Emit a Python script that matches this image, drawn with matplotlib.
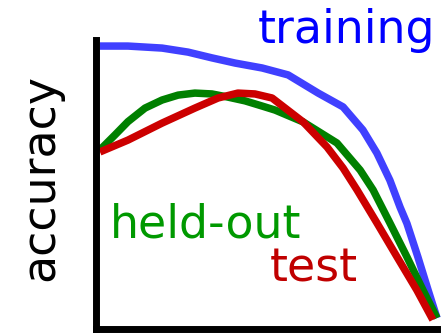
import matplotlib
matplotlib.use("Agg")
import matplotlib.pyplot as plt

# curves (x = training time 0-100, y = accuracy 0-100)
train_x = [1.3, 9.5, 19.5, 27.1, 34.1, 40.9, 48.8, 56.4, 65.2, 72.5, 78.3, 82.4, 86.2,
           89.2, 91.2, 94.4, 97.4, 100.0]
train_y = [97.9, 97.9, 97.2, 95.8, 93.8, 92.0, 90.3, 87.9, 81.6, 76.8, 68.8, 60.8, 51.4,
           42.0, 36.4, 24.8, 13.3, 3.6]

heldout_x = [1.3, 5.7, 9.5, 14.5, 19.5, 24.2, 29.1, 34.1, 38.8, 43.8, 48.8, 52.6, 60.8,
             70.7, 77.5, 81.3, 86.2, 91.2, 95.9, 100.0]
heldout_y = [61.9, 67.1, 71.7, 76.4, 79.2, 80.9, 81.6, 81.3, 80.2, 78.9, 77.1, 75.7, 71.6,
             64.3, 54.9, 48.0, 36.6, 24.8, 13.3, 3.6]

test_x = [1.3, 9.5, 19.5, 29.1, 35.9, 41.7, 46.7, 51.7, 60.8, 67.8, 72.5, 76.6, 82.4,
          88.3, 94.1, 98.8]
test_y = [61.2, 65.3, 71.2, 76.4, 79.9, 81.6, 81.3, 79.9, 71.6, 62.9, 55.6, 48.0, 36.6,
          24.8, 13.3, 3.0]

W, H = 441, 333
fig = plt.figure(figsize=(W / 100, H / 100), dpi=100)
ax = fig.add_axes([95.5 / W, 4.5 / H, (437 - 95.5) / W, (328.5 - 40) / H])

lw = 5.4
style = dict(lw=lw, solid_capstyle="butt", solid_joinstyle="round", clip_on=False)
ax.plot(train_x, train_y, color="#4040ff", **style)
ax.plot(heldout_x, heldout_y, color="#008000", **style)
ax.plot(test_x, test_y, color="#cc0000", **style)

ax.set_xlim(0, 100)
ax.set_ylim(0, 100)
ax.set_xticks([])
ax.set_yticks([])
for side in ["top", "right"]:
    ax.spines[side].set_visible(False)
for side in ["left", "bottom"]:
    ax.spines[side].set_linewidth(5)
    ax.spines[side].set_color("black")

fs = 33
fig.text(258 / W, 1 - 43 / H, "training", color="#0000ff", fontsize=fs, ha="left", va="baseline")
fig.text(110 / W, 1 - 238 / H, "held-out", color="#009900", fontsize=fs, ha="left", va="baseline")
fig.text(270 / W, 1 - 282 / H, "test", color="#c00000", fontsize=fs, ha="left", va="baseline")
fig.text(53 / W, 1 - 177.5 / H, "accuracy", color="black", fontsize=fs, rotation=90,
         rotation_mode="anchor", ha="center", va="baseline")

fig.savefig("out.png", dpi=100)
